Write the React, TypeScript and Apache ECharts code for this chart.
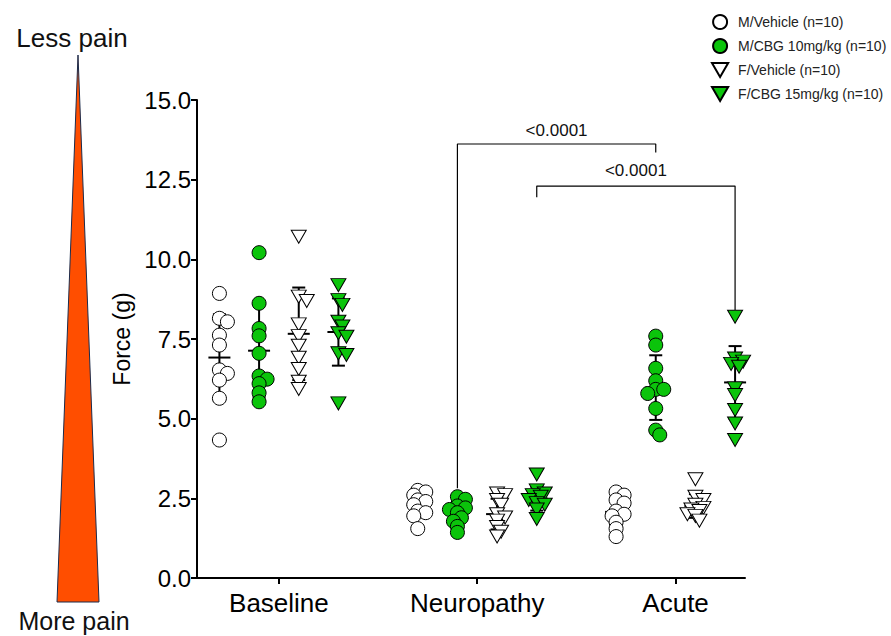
import React, { useEffect, useRef } from "react";
import * as echarts from "echarts";

const categories = ["Baseline", "Neuropathy", "Acute"];
const groupNames = [
  "M/Vehicle (n=10)",
  "M/CBG 10mg/kg (n=10)",
  "F/Vehicle (n=10)",
  "F/CBG 15mg/kg (n=10)",
];
const groupOffsets = [-0.3, -0.1, 0.1, 0.3];

// values per category: Baseline, Neuropathy, Acute
const mVehicle = [
  [8.93, 8.15, 8.04, 7.62, 7.31, 6.53, 6.42, 6.21, 5.64, 4.33],
  [2.75, 2.7, 2.6, 2.45, 2.4, 2.3, 2.1, 2.05, 1.95, 1.55],
  [2.7, 2.6, 2.45, 2.35, 2.1, 2.0, 1.95, 1.75, 1.55, 1.3],
];
const mCBG = [
  [10.21, 8.62, 7.83, 7.6, 7.05, 6.34, 6.24, 6.1, 5.81, 5.53],
  [2.55, 2.47, 2.26, 2.2, 2.15, 2.05, 1.89, 1.78, 1.62, 1.43],
  [7.59, 7.31, 6.58, 6.19, 5.92, 5.92, 5.79, 5.32, 4.64, 4.49],
];
const fVehicle = [
  [10.71, 8.83, 8.69, 7.96, 7.59, 7.29, 6.91, 6.56, 6.16, 5.93],
  [2.65, 2.6, 2.45, 2.3, 2.0, 1.9, 1.8, 1.6, 1.45, 1.3],
  [3.1, 2.55, 2.45, 2.3, 2.2, 2.15, 2.1, 2.0, 1.95, 1.8],
];
const fCBG = [
  [9.19, 8.72, 8.57, 8.04, 7.89, 7.68, 7.57, 7.05, 7.0, 5.48],
  [3.25, 2.75, 2.65, 2.6, 2.55, 2.45, 2.35, 2.3, 2.15, 1.85],
  [8.2, 6.89, 6.79, 6.72, 6.63, 5.95, 5.74, 5.27, 4.85, 4.33],
];
const groups = [mVehicle, mCBG, fVehicle, fCBG];

const yMin = 0;
const yMax = 15;
const yInterval = 2.5;
const xMin = -0.413;
const xMax = 2.35;

// significance brackets
const bracketX1 = [0.9, 1.3];
const bracketX2 = [1.9, 2.3];
const bracketTop = [13.62, 12.3];
const bracketLeftBottom = [2.82, 11.95];
const bracketRightBottom = [13.35, 8.41];
const pLabels = ["<0.0001", "<0.0001"];
const pLabelY = [14.05, 12.8];

const FONT = "'Liberation Sans', Arial, Helvetica, sans-serif";
const GREEN = "#0bc40b";
const fills = ["#ffffff", GREEN, "#ffffff", GREEN];
const DOWN_TRI = "path://M0,0L10,0L5,8.66Z";
const symbols = ["circle", "circle", DOWN_TRI, DOWN_TRI];
const symbolSizes: any[] = [14, 14, [15, 13], [15, 13]];

const GRID = { left: 197, right: 146, top: 100, bottom: 58 };
const W = 891;
const H = 636;
const pxPerX = (W - GRID.left - GRID.right) / (xMax - xMin);
const pxPerY = (H - GRID.top - GRID.bottom) / (yMax - yMin);

// compact beeswarm: small horizontal shifts, overlap allowed
function swarm(values: number[]): number[] {
  const placed: { off: number; v: number }[] = [];
  const step = 4;
  const minDist = 6;
  const ks = [0, 1, -1, 2, -2];
  return values.map((v) => {
    let best = 0;
    let bestD = -1;
    for (const k of ks) {
      const off = k * step;
      let d = Infinity;
      for (const p of placed) {
        const dx = off - p.off;
        const dy = (v - p.v) * pxPerY;
        d = Math.min(d, Math.sqrt(dx * dx + dy * dy));
      }
      if (d >= minDist) {
        best = off;
        bestD = d;
        break;
      }
      if (d > bestD) {
        bestD = d;
        best = off;
      }
    }
    placed.push({ off: best, v });
    return best / pxPerX;
  });
}

function meanSd(vals: number[]): [number, number] {
  const m = vals.reduce((a, b) => a + b, 0) / vals.length;
  const s = Math.sqrt(vals.reduce((a, b) => a + (b - m) * (b - m), 0) / (vals.length - 1));
  return [m, s];
}

export default function App() {
  const ref = useRef<HTMLDivElement>(null);
  useEffect(() => {
    if (!ref.current) return;
    const chart = echarts.init(ref.current, null, { renderer: "svg" });

    const scatterSeries = groups.map((g, gi) => {
      const data: number[][] = [];
      g.forEach((vals, ci) => {
        const offs = swarm(vals);
        vals.forEach((v, i) => data.push([ci + groupOffsets[gi] + offs[i], v]));
      });
      return {
        name: groupNames[gi],
        type: "scatter",
        data,
        symbol: symbols[gi],
        symbolSize: symbolSizes[gi],
        itemStyle: { color: fills[gi], borderColor: "#000", borderWidth: 1, opacity: 1 },
        z: 3,
        silent: true,
      };
    });

    const errData: number[][] = [];
    groups.forEach((g, gi) =>
      g.forEach((vals, ci) => {
        const [m, s] = meanSd(vals);
        errData.push([ci + groupOffsets[gi], m, s]);
      })
    );

    const errSeries = {
      type: "custom",
      name: "err",
      data: errData,
      z: 2,
      silent: true,
      renderItem: (params: any, api: any) => {
        const x = api.value(0);
        const m = api.value(1);
        const s = api.value(2);
        const c = api.coord([x, m]);
        const t = api.coord([x, m + s]);
        const b = api.coord([x, m - s]);
        const st = { stroke: "#000", lineWidth: 2 };
        return {
          type: "group",
          children: [
            { type: "line", shape: { x1: c[0] - 11, y1: c[1], x2: c[0] + 11, y2: c[1] }, style: st },
            { type: "line", shape: { x1: t[0], y1: t[1], x2: b[0], y2: b[1] }, style: st },
            { type: "line", shape: { x1: t[0] - 6.5, y1: t[1], x2: t[0] + 6.5, y2: t[1] }, style: st },
            { type: "line", shape: { x1: b[0] - 6.5, y1: b[1], x2: b[0] + 6.5, y2: b[1] }, style: st },
          ],
        };
      },
    };

    const bracketSeries = bracketX1.map((x1, i) => ({
      type: "line",
      name: "bracket" + i,
      data: [
        [x1, bracketLeftBottom[i]],
        [x1, bracketTop[i]],
        [bracketX2[i], bracketTop[i]],
        [bracketX2[i], bracketRightBottom[i]],
      ],
      symbol: "none",
      lineStyle: { color: "#000", width: 1.2 },
      silent: true,
      z: 1,
    }));

    const pSeries = {
      type: "custom",
      name: "pvals",
      data: bracketX1.map((x1, i) => [(x1 + bracketX2[i]) / 2, pLabelY[i]]),
      silent: true,
      renderItem: (params: any, api: any) => {
        const c = api.coord([api.value(0), api.value(1)]);
        return {
          type: "text",
          x: c[0],
          y: c[1],
          style: {
            text: pLabels[params.dataIndex],
            fill: "#111",
            font: `17px ${FONT}`,
            align: "center",
            verticalAlign: "middle",
          },
        };
      },
    };

    chart.setOption({
      animation: false,
      backgroundColor: "#fff",
      textStyle: { fontFamily: FONT },
      grid: { ...GRID, containLabel: false },
      legend: {
        data: groupNames,
        orient: "vertical",
        left: 706,
        top: 9,
        itemWidth: 26,
        itemHeight: 14,
        itemGap: 8,
        textStyle: { fontSize: 14, color: "#222", fontFamily: FONT },
        selectedMode: false,
      },
      xAxis: {
        type: "value",
        min: xMin,
        max: xMax,
        splitLine: { show: false },
        axisLine: { onZero: false, lineStyle: { color: "#000", width: 2 } },
        axisTick: { show: true, customValues: [0, 1, 2], length: 6, lineStyle: { color: "#000", width: 2 } },
        axisLabel: {
          customValues: [0, 1, 2],
          formatter: (v: number) => categories[Math.round(v)] ?? "",
          fontSize: 26,
          color: "#000",
          margin: 12,
          fontFamily: FONT,
        },
      },
      yAxis: {
        type: "value",
        min: yMin,
        max: yMax,
        interval: yInterval,
        name: "Force (g)",
        nameLocation: "middle",
        nameGap: 64,
        nameTextStyle: { fontSize: 23, color: "#000", fontFamily: FONT },
        splitLine: { show: false },
        axisLine: { show: true, onZero: false, lineStyle: { color: "#000", width: 2 } },
        axisTick: { show: true, length: 6, lineStyle: { color: "#000", width: 2 } },
        axisLabel: {
          formatter: (v: number) => v.toFixed(1),
          fontSize: 24,
          color: "#000",
          margin: 6,
          fontFamily: FONT,
        },
      },
      graphic: [
        {
          type: "polygon",
          shape: { points: [[78, 55], [57, 602], [99, 602]] },
          style: { fill: "#ff4e00", stroke: "#1b2b4b", lineWidth: 1 },
        },
        {
          type: "text",
          x: 72,
          y: 38,
          style: { text: "Less pain", font: `26px ${FONT}`, fill: "#111", align: "center", verticalAlign: "middle" },
        },
        {
          type: "text",
          x: 74,
          y: 621,
          style: { text: "More pain", font: `25px ${FONT}`, fill: "#111", align: "center", verticalAlign: "middle" },
        },
      ],
      series: [...bracketSeries, ...scatterSeries, errSeries, pSeries],
    });
    return () => chart.dispose();
  }, []);
  return <div ref={ref} style={{ position: "fixed", left: 0, top: 0, width: W, height: H }} />;
}
